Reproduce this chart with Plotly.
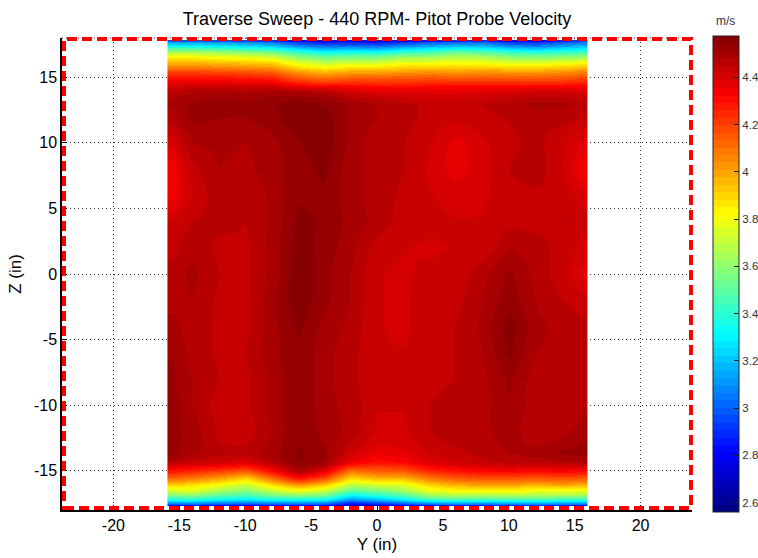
import plotly.graph_objects as go

TITLE = "Traverse Sweep - 440 RPM- Pitot Probe Velocity"
X_TICKS = [-20, -15, -10, -5, 0, 5, 10, 15, 20]
X_LABELS = ["-20", "-15", "-10", "-5", "0", "5", "10", "15", "20"]
Z_TICKS = [-15, -10, -5, 0, 5, 10, 15]
Z_LABELS = ["-15", "-10", "-5", "0", "5", "10", "15"]
BAR_TICKS = [2.6, 2.8, 3.0, 3.2, 3.4, 3.6, 3.8, 4.0, 4.2, 4.4]
BAR_LABELS = ["2.6", "2.8", "3", "3.2", "3.4", "3.6", "3.8", "4", "4.2", "4.4"]

# cell edges of the traverse grid, in inches
Y_EDGES = [-15.9, -15, -13, -11, -9, -7, -5, -3, -1, 1, 3, 5, 7, 9, 11, 13, 15, 15.95]
Z_EDGES = [17.85, 17.7, 17.25, 16.75, 16.25, 15.75, 15.25, 14.75, 14.25, 13.5, 12.5, 11, 9, 7, 5, 3, 1,
           -1, -3, -5, -7, -9, -11, -13, -14.25, -14.75, -15.25, -15.75, -16.25, -16.75, -17.25, -17.55, -17.7]

# velocity (m/s), one list per Z row from top to bottom; columns are Y = -16 ... 16 by 2
VELOCITY = [
    [3.00, 3.00, 2.98, 2.95, 2.92, 2.80, 2.75, 2.78, 2.72, 2.78, 2.85, 2.88, 2.90, 2.80, 2.78, 2.88, 2.95],
    [3.28, 3.28, 3.25, 3.22, 3.18, 3.05, 2.98, 3.00, 2.98, 3.05, 3.12, 3.15, 3.15, 3.05, 3.02, 3.10, 3.15],
    [3.62, 3.62, 3.58, 3.55, 3.50, 3.38, 3.30, 3.32, 3.30, 3.38, 3.42, 3.48, 3.45, 3.38, 3.35, 3.38, 3.40],
    [3.85, 3.85, 3.82, 3.80, 3.76, 3.62, 3.55, 3.58, 3.58, 3.65, 3.65, 3.70, 3.68, 3.62, 3.60, 3.62, 3.65],
    [4.02, 4.02, 4.00, 3.98, 3.96, 3.82, 3.75, 3.80, 3.80, 3.85, 3.85, 3.85, 3.85, 3.82, 3.82, 3.85, 3.88],
    [4.18, 4.18, 4.16, 4.15, 4.12, 4.00, 3.94, 3.98, 3.98, 4.00, 4.02, 4.00, 4.02, 4.00, 4.00, 4.02, 4.05],
    [4.30, 4.30, 4.29, 4.28, 4.26, 4.15, 4.10, 4.14, 4.14, 4.15, 4.16, 4.14, 4.15, 4.14, 4.14, 4.15, 4.18],
    [4.38, 4.40, 4.40, 4.38, 4.38, 4.30, 4.26, 4.28, 4.26, 4.26, 4.28, 4.28, 4.28, 4.28, 4.28, 4.28, 4.30],
    [4.45, 4.48, 4.49, 4.48, 4.50, 4.49, 4.47, 4.41, 4.39, 4.38, 4.38, 4.38, 4.39, 4.40, 4.42, 4.42, 4.40],
    [4.49, 4.52, 4.53, 4.52, 4.54, 4.56, 4.54, 4.51, 4.48, 4.46, 4.44, 4.44, 4.45, 4.47, 4.49, 4.49, 4.46],
    [4.47, 4.52, 4.51, 4.51, 4.53, 4.57, 4.57, 4.50, 4.48, 4.46, 4.44, 4.42, 4.44, 4.45, 4.47, 4.46, 4.44],
    [4.40, 4.48, 4.49, 4.48, 4.50, 4.54, 4.57, 4.50, 4.46, 4.45, 4.42, 4.37, 4.41, 4.44, 4.46, 4.42, 4.38],
    [4.33, 4.44, 4.48, 4.47, 4.50, 4.53, 4.55, 4.49, 4.47, 4.45, 4.41, 4.37, 4.40, 4.45, 4.47, 4.42, 4.33],
    [4.34, 4.42, 4.47, 4.45, 4.49, 4.54, 4.54, 4.49, 4.47, 4.44, 4.42, 4.40, 4.41, 4.44, 4.44, 4.44, 4.40],
    [4.42, 4.45, 4.46, 4.45, 4.49, 4.55, 4.54, 4.50, 4.47, 4.43, 4.43, 4.42, 4.42, 4.44, 4.44, 4.45, 4.43],
    [4.44, 4.47, 4.44, 4.44, 4.49, 4.56, 4.53, 4.49, 4.43, 4.42, 4.41, 4.42, 4.42, 4.48, 4.46, 4.44, 4.40],
    [4.46, 4.49, 4.45, 4.44, 4.49, 4.57, 4.52, 4.48, 4.42, 4.41, 4.43, 4.43, 4.47, 4.52, 4.47, 4.43, 4.38],
    [4.47, 4.48, 4.44, 4.44, 4.50, 4.57, 4.52, 4.48, 4.42, 4.41, 4.44, 4.44, 4.48, 4.53, 4.48, 4.45, 4.43],
    [4.49, 4.47, 4.44, 4.44, 4.50, 4.55, 4.50, 4.47, 4.42, 4.41, 4.44, 4.45, 4.49, 4.56, 4.49, 4.47, 4.46],
    [4.51, 4.47, 4.44, 4.45, 4.50, 4.54, 4.49, 4.46, 4.42, 4.42, 4.44, 4.45, 4.48, 4.55, 4.48, 4.47, 4.48],
    [4.52, 4.48, 4.45, 4.44, 4.49, 4.54, 4.49, 4.46, 4.42, 4.42, 4.44, 4.45, 4.47, 4.52, 4.46, 4.45, 4.47],
    [4.53, 4.48, 4.43, 4.44, 4.49, 4.54, 4.49, 4.47, 4.42, 4.42, 4.45, 4.46, 4.47, 4.51, 4.46, 4.45, 4.47],
    [4.53, 4.50, 4.44, 4.43, 4.48, 4.54, 4.50, 4.47, 4.41, 4.41, 4.45, 4.47, 4.47, 4.50, 4.45, 4.47, 4.50],
    [4.53, 4.49, 4.46, 4.46, 4.50, 4.55, 4.52, 4.42, 4.36, 4.38, 4.42, 4.44, 4.46, 4.48, 4.50, 4.52, 4.53],
    [4.42, 4.40, 4.38, 4.34, 4.44, 4.54, 4.50, 4.30, 4.26, 4.28, 4.37, 4.40, 4.42, 4.44, 4.42, 4.45, 4.44],
    [4.30, 4.26, 4.22, 4.16, 4.32, 4.50, 4.38, 4.10, 4.15, 4.16, 4.26, 4.30, 4.33, 4.34, 4.32, 4.34, 4.32],
    [4.14, 4.10, 4.02, 3.92, 4.12, 4.32, 4.20, 3.90, 3.98, 3.98, 4.10, 4.16, 4.18, 4.18, 4.16, 4.18, 4.16],
    [3.94, 3.90, 3.82, 3.72, 3.90, 4.06, 3.95, 3.70, 3.76, 3.78, 3.92, 4.00, 4.02, 4.02, 4.00, 4.02, 4.00],
    [3.74, 3.76, 3.65, 3.58, 3.70, 3.80, 3.72, 3.50, 3.55, 3.64, 3.78, 3.82, 3.82, 3.82, 3.80, 3.80, 3.80],
    [3.48, 3.50, 3.42, 3.38, 3.46, 3.48, 3.45, 3.22, 3.30, 3.40, 3.55, 3.58, 3.56, 3.58, 3.58, 3.55, 3.55],
    [3.16, 3.18, 3.12, 3.10, 3.14, 3.14, 3.14, 2.92, 3.00, 3.10, 3.20, 3.22, 3.20, 3.22, 3.24, 3.20, 3.20],
    [2.82, 2.85, 2.82, 2.80, 2.82, 2.84, 2.82, 2.68, 2.72, 2.78, 2.85, 2.88, 2.86, 2.90, 2.90, 2.88, 2.86],
]

Z_MIN, Z_MAX = 2.56, 4.575
LEVELS = 64


def jet(t):
    def chan(v):
        return int(round(255 * max(0.0, min(1.0, v))))
    return "rgb(%d,%d,%d)" % (chan(1.5 - abs(4 * t - 3)), chan(1.5 - abs(4 * t - 2)), chan(1.5 - abs(4 * t - 1)))


scale = []
for i in range(LEVELS):
    c = jet((i + 0.5) / LEVELS)
    scale.append([i / LEVELS, c])
    scale.append([(i + 1) / LEVELS, c])

FONT = "Liberation Sans, Arial, sans-serif"
PW, PH = 630, 472  # plot-area size in pixels
FIG_W = 790

fig = go.Figure(go.Heatmap(
    x=Y_EDGES,
    y=Z_EDGES[::-1],
    z=VELOCITY[::-1],
    zmin=Z_MIN,
    zmax=Z_MAX,
    zsmooth="best",
    colorscale=scale,
    colorbar=dict(
        x=1 + 20.5 / PW, xanchor="left", xpad=0,
        y=1 + 2 / PH, yanchor="top", ypad=0,
        thickness=26, lenmode="pixels", len=476,
        tickmode="array", tickvals=BAR_TICKS, ticktext=BAR_LABELS,
        ticks="inside", ticklen=5, tickcolor="#222222",
        tickfont=dict(family=FONT, size=11.5, color="#333333"),
        outlinecolor="#222222", outlinewidth=1,
    ),
))

axis = dict(
    showgrid=True, griddash="1px,3px", gridcolor="#333333", gridwidth=1, zeroline=False,
    showline=True, linecolor="black", linewidth=1.5, mirror=False, automargin=False,
    ticks="inside", ticklen=5, tickcolor="black", tickmode="array",
    tickfont=dict(family=FONT, size=16, color="black"),
)

fig.update_layout(
    width=FIG_W, height=558, autosize=False,
    margin=dict(l=62, r=FIG_W - 62 - PW, t=38, b=48),
    paper_bgcolor="white", plot_bgcolor="white",
    font=dict(family=FONT, color="black"),
    title=dict(text=TITLE, x=377 / FIG_W, xanchor="center", y=1 - 19 / 558, yanchor="middle",
               font=dict(family=FONT, size=18, color="black")),
    xaxis=dict(axis, range=[-23.9, 23.9], tickvals=X_TICKS, ticktext=X_LABELS,
               title=dict(text="Y (in)", font=dict(family=FONT, size=17), standoff=5)),
    yaxis=dict(axis, range=[-18, 18], tickvals=Z_TICKS, ticktext=Z_LABELS,
               title=dict(text="Z (in)", font=dict(family=FONT, size=17), standoff=8)),
    annotations=[dict(text="m/s", xref="paper", yref="paper", x=(725.5 - 62) / PW, y=1 + 17 / PH,
                      showarrow=False, xanchor="center", yanchor="middle",
                      font=dict(family=FONT, size=12, color="#333333"))],
    shapes=[
        dict(type="line", xref="paper", yref="paper", x0=0, x1=1, y0=1, y1=1,
             line=dict(color="#333333", width=1, dash="1px,3px"), layer="above"),
        dict(type="rect", xref="paper", yref="paper", x0=2 / PW, x1=629 / PW, y0=2 / PH, y1=471 / PH,
             line=dict(color="#ff0000", width=4, dash="10px,5px"), layer="above"),
    ],
)

fig.write_html("out.html", config={"displayModeBar": False}, post_script="document.body.style.margin='0';")
